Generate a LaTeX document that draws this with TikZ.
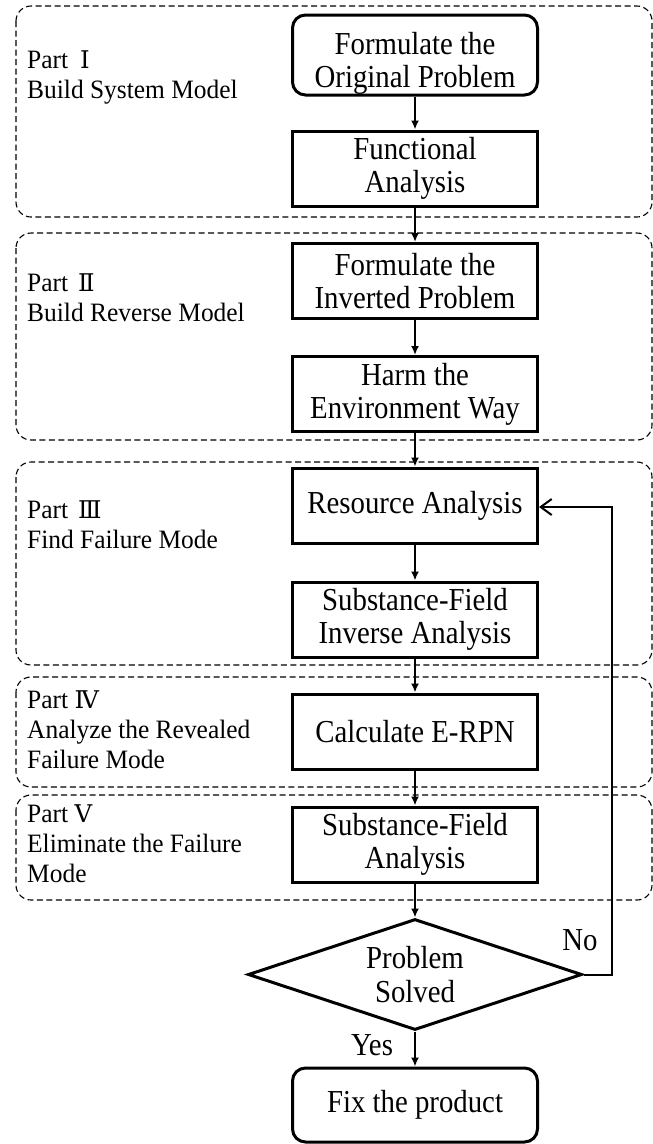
\documentclass[tikz,border=0pt]{standalone}
\usepackage{fontspec}
\setmainfont{Liberation Serif}
\newfontfamily\cjk{Noto Sans CJK SC}
\newfontfamily\numserif[Scale=0.92]{DejaVu Serif}
\newfontfamily\boxfont[FakeStretch=0.9]{Liberation Serif}
\newfontfamily\labelfont[FakeStretch=0.96]{Liberation Serif}
\usetikzlibrary{arrows.meta,shapes.geometric}

% Roman numeral sign in a serif face, with a CJK fallback
\newcommand\romannum[1]{{\numserif\iffontchar\font`#1\relax #1\else\cjk #1\fi}}

\tikzset{
  stage/.style={draw, line width=1.1pt, dash pattern=on 6pt off 3.5pt, rounded corners=15pt},
  stepbox/.style={draw, line width=3pt, minimum width=245pt, minimum height=75pt,
                  inner sep=2pt, align=center, font=\boxfont\fontsize{32}{33}\selectfont},
  endbox/.style={stepbox, rounded corners=13pt},
  decision/.style={draw, diamond, line width=3pt, aspect=3, minimum width=334pt, minimum height=111pt,
                   inner sep=0pt, align=center, font=\boxfont\fontsize{32}{34}\selectfont},
  partlabel/.style={anchor=base west, inner sep=0pt, align=left, font=\labelfont\fontsize{26.5}{30}\selectfont},
  tag/.style={inner sep=0pt, font=\boxfont\fontsize{32}{33}\selectfont},
  flow/.style={line width=2pt, -{Latex[length=9pt,width=8pt]}},
  back/.style={line width=2pt, -{Straight Barb[length=11pt,width=16pt,line width=2pt]}},
}

\begin{document}
\begin{tikzpicture}[x=1pt, y=-1pt]
\useasboundingbox[fill=white] (0,0) rectangle (653,1144);

% dashed frames of the five parts
\draw[stage] (16,6)   rectangle (652,217);
\draw[stage] (16,233) rectangle (652,440);
\draw[stage] (16,462) rectangle (652,665);
\draw[stage] (16,677) rectangle (652,787);
\draw[stage] (16,795) rectangle (652,900);

% part labels (anchored at the baseline of their last line)
\node[partlabel] (p1) at (27,98)  {Part\hspace{12pt}\romannum{Ⅰ}\\Build System Model};
\node[partlabel] (p2) at (27,321) {Part\hspace{10pt}\romannum{Ⅱ}\\Build Reverse Model};
\node[partlabel] (p3) at (27,548) {Part\hspace{10pt}\romannum{Ⅲ}\\Find Failure Mode};
\node[partlabel] (p4) at (27,768) {Part \romannum{Ⅳ}\\Analyze\ the\ Revealed\\Failure Mode};
\node[partlabel] (p5) at (27,882) {Part \romannum{Ⅴ}\\Eliminate\ the\ Failure\\Mode};

% process steps
\node[endbox, minimum height=80pt, text height=64pt, text depth=0pt] (orig) at (415,55)
  {Formulate the\\Original Problem};
\node[stepbox] (func) at (415,168.5) {Functional\\Analysis};
\node[stepbox] (inv)  at (415,281)   {Formulate the\\Inverted Problem};
\node[stepbox] (harm) at (415,394)   {Harm the\\Environment Way};
\node[stepbox] (res)  at (415,505.5) {Resource Analysis};
\node[stepbox] (sfi)  at (415,619.5) {Substance-Field\\Inverse Analysis};
\node[stepbox] (rpn)  at (415,731.5) {Calculate E-RPN};
\node[stepbox] (sfa)  at (415,844.5) {Substance-Field\\Analysis};
\node[decision] (solved) at (415,974.5) {Problem\\Solved};
\node[endbox, minimum height=74pt] (fix) at (415,1105) {Fix the product};

% connectors
\draw[flow] (orig) -- (func);
\draw[flow] (func) -- (inv);
\draw[flow] (inv)  -- (harm);
\draw[flow] (harm) -- (res);
\draw[flow] (res)  -- (sfi);
\draw[flow] (sfi)  -- (rpn);
\draw[flow] (rpn)  -- (sfa);
\draw[flow] (sfa)  -- (solved);
\draw[flow] (solved) -- (fix);
\draw[back] (solved.east) -- (612,974.5) -- (612,507) -- (res.east |- 0,507);

% branch labels
\node[tag] (no)  at (580,940)  {No};
\node[tag] (yes) at (372,1045) {Yes};
\end{tikzpicture}
\end{document}
